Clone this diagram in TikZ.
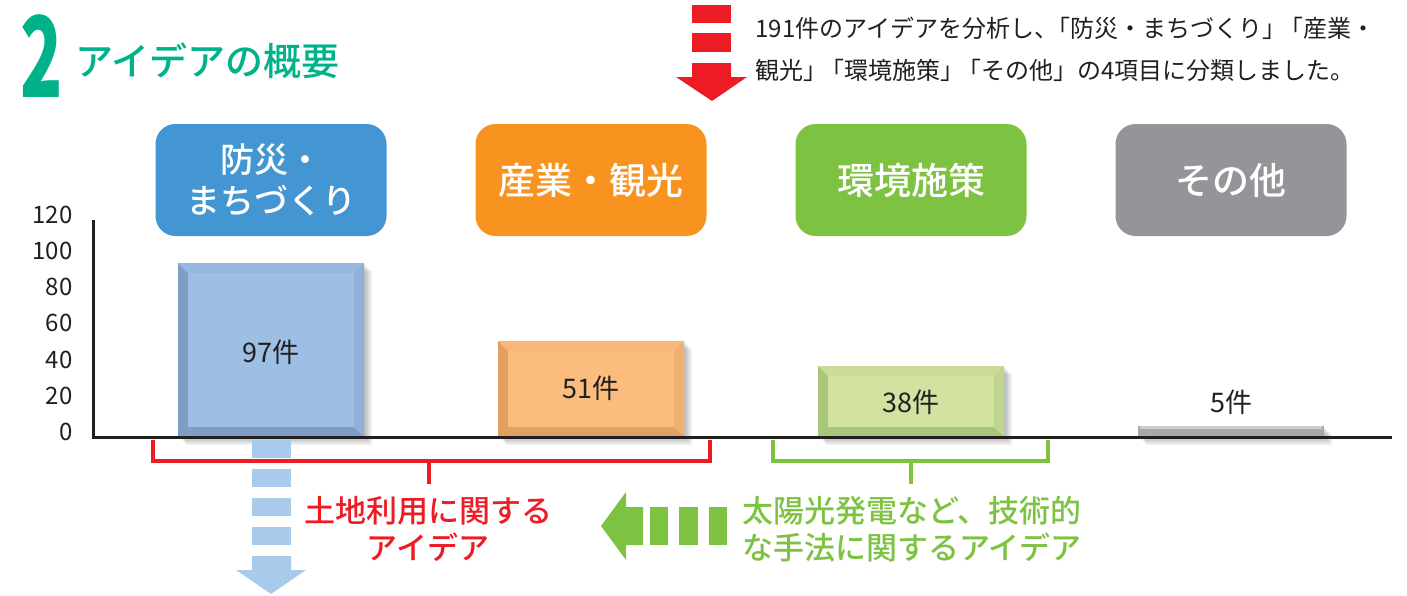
\documentclass[tikz,border=0pt]{standalone}
\usepackage{xcolor}
\usepackage{fontspec}
\setmainfont{Noto Sans CJK JP}
\newfontfamily\jpmed{Noto Sans CJK JP Medium}
\usetikzlibrary{positioning}

\definecolor{titlegreen}{RGB}{0,178,137}
\definecolor{boxblue}{RGB}{68,150,211}
\definecolor{boxorange}{RGB}{247,147,30}
\definecolor{boxgreen}{RGB}{126,194,66}
\definecolor{boxgray}{RGB}{147,149,152}
\definecolor{barblue}{RGB}{157,191,228}
\definecolor{edgeblue}{RGB}{126,158,200}
\definecolor{barorange}{RGB}{251,189,125}
\definecolor{edgeorange}{RGB}{226,160,98}
\definecolor{bargreen}{RGB}{209,226,161}
\definecolor{edgegreen}{RGB}{170,198,122}
\definecolor{bargray}{RGB}{168,169,172}
\definecolor{arrowblue}{RGB}{169,203,235}
\definecolor{linered}{RGB}{237,28,36}
\definecolor{textdark}{RGB}{35,31,32}

\begin{document}
\begin{tikzpicture}[x=1pt, y=-1pt,
    catbox/.style={rounded corners=20pt, minimum width=231pt, minimum height=112pt,
      text=white, align=center, font=\fontsize{37}{41}\selectfont\jpmed},
    barlabel/.style={text=textdark, font=\fontsize{27}{30}\selectfont},
    ticklabel/.style={anchor=east, text=textdark, font=\fontsize{24}{28}\selectfont},
    bracket/.style={line width=3.5pt},
    note/.style={align=center, font=\fontsize{31}{37}\selectfont\jpmed}]
\useasboundingbox (0,0) rectangle (1407,595);

% title
\node[text=titlegreen, inner sep=0pt] (num) at (42,56)
  {\scalebox{0.62}[1]{\fontsize{112}{112}\selectfont\bfseries 2}};
\node[anchor=west, text=titlegreen, font=\fontsize{38}{40}\selectfont\jpmed] (title) at (72,61) {アイデアの概要};

% red arrow and intro
\foreach \ya/\yb in {5/23, 33/52}
  \fill[linered] (692,\ya) rectangle (731,\yb);
\fill[linered] (692,63) -- (731,63) -- (731,77) -- (747,77) -- (712,101) -- (676,77) -- (692,77) -- cycle;
\node[anchor=west, align=left, text=textdark, font=\fontsize{24}{42}\selectfont] (intro) at (752,49)
  {191件のアイデアを分析し、\kern-0.5em「防災・まちづくり」\kern-0.3em「産業・\\観光」\kern-0.3em「環境施策」\kern-0.3em「その他」の4項目に分類しました。};

% category boxes
\node[catbox, fill=boxblue, font=\fontsize{34}{41}\selectfont\jpmed] (bousai) at (271,180) {防災・\\まちづくり};
\node[catbox, fill=boxorange] (sangyo) at (591,180) {産業・観光};
\node[catbox, fill=boxgreen] (kankyo) at (911,180) {環境施策};
\node[catbox, fill=boxgray] (sonota) at (1231,180) {その他};

% bars
\foreach \cx/\top/\fc/\ec in {271/263/barblue/edgeblue, 591/341/barorange/edgeorange, 911/366/bargreen/edgegreen} {
  \foreach \s in {2,4,6,8}
    \fill[black, opacity=.07] (\cx-93+\s,\top+\s) rectangle (\cx+93+\s,437+\s);
  \fill[\ec] (\cx-93,\top) rectangle (\cx+93,437);
  \fill[\fc!80!\ec] (\cx-93,\top) -- (\cx+93,\top) -- (\cx+83,\top+10) -- (\cx-83,\top+10) -- cycle;
  \fill[\fc!55!\ec] (\cx+93,\top) -- (\cx+93,437) -- (\cx+83,427) -- (\cx+83,\top+10) -- cycle;
  \fill[\fc] (\cx-83,\top+10) rectangle (\cx+83,427);
}
\foreach \s in {2,4,6,8}
  \fill[black, opacity=.07] (1138+\s,426+\s) rectangle (1324+\s,437+\s);
\fill[bargray] (1138,426) rectangle (1324,437);
\fill[bargray!60!white] (1140,426) rectangle (1322,429);

% axes
\draw[line width=3pt, textdark] (93,220) -- (93,437) -- (1392,437);
\foreach \v in {0,20,...,120}
  \node[ticklabel] (tick\v) at (76,432-1.81*\v) {\v};

\node[barlabel] (n1) at (271,352) {97件};
\node[barlabel] (n2) at (591,388) {51件};
\node[barlabel] (n3) at (911,402) {38件};
\node[barlabel] (n4) at (1231,402) {5件};

% brackets and notes
\coordinate (rl) at (153,440);
\coordinate (rr) at (710,440);
\coordinate (rm) at (429,461);
\coordinate (gl) at (773,440);
\coordinate (gr) at (1048,440);
\coordinate (gm) at (911,461);
\node[note, text=linered] (landuse) at (428,529) {土地利用に関する\\アイデア};
\node[note, text=boxgreen] (tech) at (912,529) {太陽光発電など、技術的\\な手法に関するアイデア};
\draw[bracket, linered] (rl) |- (rm) -| (rr);
\draw[bracket, linered] (rm) -- ++(0,23);
\draw[bracket, boxgreen] (gl) |- (gm) -| (gr);
\draw[bracket, boxgreen] (gm) -- ++(0,23);

% blue arrow
\foreach \ya in {440,469,498,527}
  \fill[arrowblue] (252,\ya) rectangle (291,\ya+17.5);
\fill[arrowblue] (252,556) -- (291,556) -- (291,570) -- (306,570) -- (271,594) -- (236,570) -- (252,570) -- cycle;

% green arrow
\foreach \xa/\xb in {650/668, 679/698, 709/727}
  \fill[boxgreen] (\xa,507) rectangle (\xb,545);
\fill[boxgreen] (643,507) -- (643,545) -- (626,545) -- (626,560) -- (601,526) -- (626,492) -- (626,507) -- cycle;
\end{tikzpicture}
\end{document}
